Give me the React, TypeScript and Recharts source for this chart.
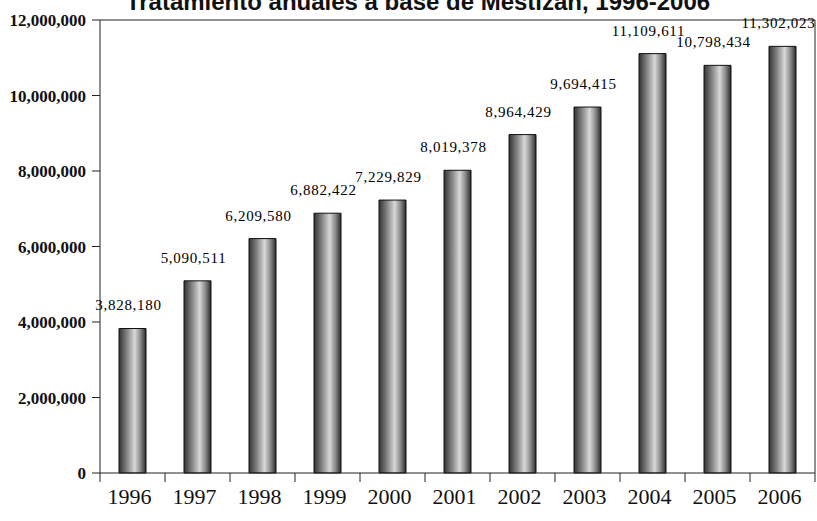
import React from "react"
import { BarChart, Bar, XAxis, YAxis, LabelList, ReferenceLine } from "recharts"

const YEARS = ["1996", "1997", "1998", "1999", "2000", "2001", "2002", "2003", "2004", "2005", "2006"]
const TREATMENTS = [3828180, 5090511, 6209580, 6882422, 7229829, 8019378, 8964429, 9694415, 11109611, 10798434, 11302023]
const Y_TICKS = [0, 2000000, 4000000, 6000000, 8000000, 10000000, 12000000]
const TITLE = "Tratamiento anuales a base de Mestizan, 1996-2006"

const W = 817
const H = 521
const LEFT = 100
const RIGHT = 2
const BAND = (W - LEFT - RIGHT) / YEARS.length

const data = YEARS.map((year, i) => ({ year, value: TREATMENTS[i] }))

const fmt = (v: number) => v.toLocaleString("en-US")

function YearTick(props: any) {
  const { x, y, payload, index } = props
  const left = x - BAND / 2
  return (
    <g>
      <line x1={left} x2={left} y1={y} y2={y + 9} stroke="#222" />
      {index === YEARS.length - 1 && <line x1={x + BAND / 2} x2={x + BAND / 2} y1={y} y2={y + 9} stroke="#222" />}
      <text x={x - 3} y={y + 31} textAnchor="middle" fontFamily="Liberation Serif" fontSize={22} fill="#111">
        {payload.value}
      </text>
    </g>
  )
}

function ValueLabel(props: any) {
  const { x, y, width, value } = props
  return (
    <text
      x={x + width / 2 - 4}
      y={y - 18}
      textAnchor="middle"
      fontFamily="Liberation Serif"
      fontSize={15}
      letterSpacing={0.7}
      fill="#000"
    >
      {fmt(Number(value))}
    </text>
  )
}

export default function App() {
  return (
    <div style={{ position: "absolute", left: 0, top: 0, width: W, height: H, background: "#fff" }}>
      <svg width={W} height={H} style={{ position: "absolute", left: 0, top: 0, pointerEvents: "none" }}>
        <text x={418} y={10} textAnchor="middle" fontFamily="Liberation Sans" fontWeight="bold" fontSize={24} fill="#111">
          {TITLE}
        </text>
      </svg>
      <BarChart width={W} height={H} data={data} margin={{ top: 20, right: 1, bottom: 0, left: 0 }} barCategoryGap={0}>
        <defs>
          <linearGradient id="cyl" x1="0" y1="0" x2="1" y2="0">
            <stop offset="0%" stopColor="#333" />
            <stop offset="30%" stopColor="#858585" />
            <stop offset="58%" stopColor="#d8d8d8" />
            <stop offset="80%" stopColor="#888" />
            <stop offset="100%" stopColor="#2a2a2a" />
          </linearGradient>
        </defs>
        <XAxis
          dataKey="year"
          height={48}
          tickLine={false}
          tickSize={0}
          tickMargin={0}
          axisLine={{ stroke: "#222" }}
          tick={<YearTick />}
          interval={0}
        />
        <YAxis
          yAxisId="l"
          width={100}
          domain={[0, 12000000]}
          ticks={Y_TICKS}
          tickFormatter={fmt}
          tickSize={8}
          tickMargin={6}
          axisLine={{ stroke: "#222" }}
          tickLine={{ stroke: "#222" }}
          tick={{ fontFamily: "Liberation Serif", fontWeight: "bold", fontSize: 17, fill: "#111" }}
        />
        <YAxis yAxisId="r" orientation="right" width={1} domain={[0, 12000000]} tick={false} tickLine={false} axisLine={{ stroke: "#222" }} />
        <ReferenceLine yAxisId="l" y={12000000} stroke="#222" />
        <Bar yAxisId="l" dataKey="value" barSize={27} fill="url(#cyl)" stroke="#111" strokeWidth={1} isAnimationActive={false}>
          <LabelList dataKey="value" content={<ValueLabel />} />
        </Bar>
      </BarChart>
    </div>
  )
}
